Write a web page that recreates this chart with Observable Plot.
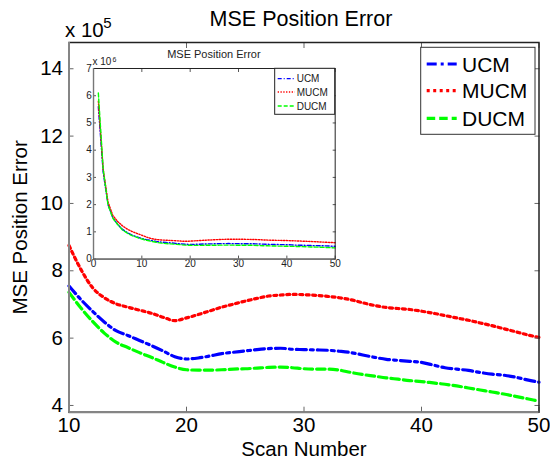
<!DOCTYPE html>
<html><head><meta charset="utf-8">
<script src="https://cdn.jsdelivr.net/npm/d3@7"></script>
<script src="https://cdn.jsdelivr.net/npm/@observablehq/plot@0.6"></script>
<style>
html,body{margin:0;padding:0;background:#fff;}
#wrap{position:relative;width:550px;height:464px;overflow:hidden;font-family:"Liberation Sans",Arial,sans-serif;}
#wrap > div{position:absolute;}
</style></head><body><div id="wrap"><div id="main" style="left:0;top:0"></div><div id="inset" style="left:73.3px;top:47.7px"></div></div>
<script>
// ---- data (values in units of 1e5) ----
const scans = [1,2,3,4,5,6,7,8,9,10,11,12,13,14,15,16,17,18,19,20,21,22,23,24,25,26,27,28,29,30,31,32,33,34,35,36,37,38,39,40,41,42,43,44,45,46,47,48,49,50];
const ucm  = [56,32,20,15.2,12.8,10.9,9.7,8.8,8.1,7.55,7.15,6.8,6.48,6.22,6.08,5.93,5.78,5.62,5.45,5.38,5.41,5.47,5.54,5.58,5.62,5.66,5.69,5.7,5.67,5.66,5.65,5.64,5.61,5.57,5.5,5.43,5.37,5.34,5.31,5.28,5.2,5.12,5.08,5.04,4.98,4.93,4.9,4.84,4.76,4.69];
const mucm = [58,33,21,16,13.8,12.2,11.0,10.1,9.4,8.75,8.05,7.5,7.2,7.02,6.92,6.83,6.74,6.62,6.52,6.6,6.7,6.81,6.92,7.01,7.1,7.18,7.25,7.28,7.3,7.29,7.27,7.24,7.2,7.14,7.05,6.97,6.91,6.88,6.85,6.8,6.74,6.67,6.6,6.53,6.45,6.37,6.28,6.19,6.1,6.02];
const ducm = [61,33,20,15,12.7,10.7,9.5,8.6,7.95,7.36,6.9,6.5,6.15,5.88,5.72,5.57,5.43,5.28,5.14,5.06,5.05,5.05,5.06,5.08,5.09,5.11,5.13,5.14,5.12,5.09,5.08,5.08,5.05,4.98,4.92,4.87,4.82,4.78,4.74,4.71,4.67,4.63,4.58,4.52,4.46,4.4,4.34,4.27,4.2,4.13];
const seriesNames = ["UCM","MUCM","DUCM"];
const xTicks = [10,20,30,40,50];
const yTicks = [4,6,8,10,12,14];
const insetXTicks = [0,10,20,30,40,50];
const insetYTicks = [0,10,20,30,40,50,60,70];

// ---- styles ----
const FONT = "Liberation Sans, Arial, Helvetica, sans-serif";
const colors = ["#0000ff","#ff0000","#00ff00"];
const mainDash = ["10,4,3,4","3,3.5","8.5,4"];
const insetDash = ["4,2,1,2","1.3,1.5","4,2"];
const xDomain = [10,50], yDomain = [3.8,14.78];
const ixDomain = [0,50], iyDomain = [0,70];

const allSeries = [ucm, mucm, ducm];
const rows = seriesNames.map((name, k) => scans.map((s, i) => ({scan: s, series: name, value: allSeries[k][i]})));

// ---- main chart ----
const main = Plot.plot({
  width: 550, height: 464,
  marginLeft: 68.5, marginRight: 11.5, marginTop: 42, marginBottom: 52.3,
  style: {fontFamily: FONT, fontSize: "20.5px", color: "#000", background: "transparent", overflow: "visible"},
  x: {domain: xDomain},
  y: {domain: yDomain},
  marks: [
    ...rows.map((r, k) => Plot.line(r.filter(d => d.scan >= xDomain[0]), {
      x: "scan", y: "value", stroke: colors[k], strokeWidth: 3.2,
      strokeDasharray: mainDash[k], curve: "monotone-x"
    })),
    Plot.axisX(xTicks, {anchor: "bottom", tickSize: -5, tickPadding: 10, stroke: "#666", fill: "#000",
      label: "Scan Number", labelAnchor: "center", labelArrow: "none", labelOffset: 43.5}),
    Plot.axisX(xTicks, {anchor: "top", tickSize: -5, stroke: "#666", tickFormat: () => "", label: null}),
    Plot.axisY(yTicks, {anchor: "left", tickSize: -5, tickPadding: 11, stroke: "#666", fill: "#000",
      label: "MSE Position Error", labelAnchor: "center", labelArrow: "none", labelOffset: 56.5}),
    Plot.axisY(yTicks, {anchor: "right", tickSize: -5, stroke: "#666", tickFormat: () => "", label: null}),
    Plot.frame({stroke: "#222", strokeWidth: 1.5}),
    Plot.ruleX([xDomain[0]], {stroke: "#858585", strokeWidth: 2}),
    Plot.ruleY([yDomain[0]], {stroke: "#858585", strokeWidth: 2})
  ]
});
document.getElementById("main").appendChild(main);

const ms = d3.select(main);
ms.append("text").attr("x", 301).attr("y", 26).attr("text-anchor", "middle")
  .attr("font-size", 21.5).attr("fill", "#000").text("MSE Position Error");
ms.append("text").attr("x", 65).attr("y", 36.7).attr("text-anchor", "start")
  .attr("font-size", 20.5).attr("fill", "#000").text("x 10");
ms.append("text").attr("x", 103.3).attr("y", 28).attr("text-anchor", "start")
  .attr("font-size", 15).attr("fill", "#000").text("5");

// main legend
const lg = ms.append("g").attr("text-anchor", "start");
lg.append("rect").attr("x", 420.7).attr("y", 47.3).attr("width", 114.3).attr("height", 87)
  .attr("fill", "#fff").attr("stroke", "#333").attr("stroke-width", 1);
const mainRowsY = [64, 90.7, 118.3];
seriesNames.forEach((name, i) => {
  const cy = mainRowsY[i];
  lg.append("line").attr("x1", 426.7).attr("x2", 456.7).attr("y1", cy).attr("y2", cy)
    .attr("stroke", colors[i]).attr("stroke-width", 3.2).attr("stroke-dasharray", mainDash[i]);
  lg.append("text").attr("x", 462).attr("y", cy + 7.6).attr("font-size", 21).attr("fill", "#000").text(name);
});

// ---- inset chart ----
const inset = Plot.plot({
  width: 266.7, height: 226.6,
  marginLeft: 20, marginRight: 5, marginTop: 20, marginBottom: 16,
  style: {fontFamily: FONT, fontSize: "10px", color: "#222", background: "transparent", overflow: "visible"},
  x: {domain: ixDomain},
  y: {domain: iyDomain},
  marks: [
    Plot.frame({fill: "#fff", stroke: "none"}),
    ...rows.map((r, k) => Plot.line(r, {
      x: "scan", y: "value", stroke: colors[k], strokeWidth: 1.4,
      strokeDasharray: insetDash[k]
    })),
    Plot.axisX(insetXTicks, {anchor: "bottom", tickSize: -3, tickPadding: 4, stroke: "#555", fill: "#222", label: null}),
    Plot.axisX(insetXTicks, {anchor: "top", tickSize: -3, stroke: "#555", tickFormat: () => "", label: null}),
    Plot.axisY(insetYTicks, {anchor: "left", tickSize: -3, tickPadding: 4.6, stroke: "#555", fill: "#222",
      tickFormat: d => String(d / 10), label: null}),
    Plot.axisY(insetYTicks, {anchor: "right", tickSize: -3, stroke: "#555", tickFormat: () => "", label: null}),
    Plot.frame({stroke: "#222", strokeWidth: 1}),
    Plot.ruleX([ixDomain[0]], {stroke: "#777", strokeWidth: 1.4}),
    Plot.ruleY([iyDomain[0]], {stroke: "#777", strokeWidth: 1.4})
  ]
});
document.getElementById("inset").appendChild(inset);

const is = d3.select(inset);
is.append("text").attr("x", 140.9).attr("y", 9.8).attr("text-anchor", "middle")
  .attr("font-size", 11).attr("fill", "#222").text("MSE Position Error");
is.append("text").attr("x", 19.4).attr("y", 17.3).attr("text-anchor", "start")
  .attr("font-size", 10).attr("fill", "#222").text("x 10");
is.append("text").attr("x", 39.4).attr("y", 14.2).attr("text-anchor", "start")
  .attr("font-size", 7).attr("fill", "#222").text("6");

const ilg = is.append("g").attr("text-anchor", "start");
ilg.append("rect").attr("x", 201.7).attr("y", 20.3).attr("width", 60).attr("height", 46)
  .attr("fill", "#fff").attr("stroke", "#222").attr("stroke-width", 1);
const insetRowsY = [30.6, 44, 58];
seriesNames.forEach((name, i) => {
  const cy = insetRowsY[i];
  ilg.append("line").attr("x1", 204.7).attr("x2", 221.7).attr("y1", cy).attr("y2", cy)
    .attr("stroke", colors[i]).attr("stroke-width", 1.4).attr("stroke-dasharray", insetDash[i]);
  ilg.append("text").attr("x", 223.7).attr("y", cy + 3.6).attr("font-size", 10).attr("fill", "#222").text(name);
});
</script>
</body></html>
